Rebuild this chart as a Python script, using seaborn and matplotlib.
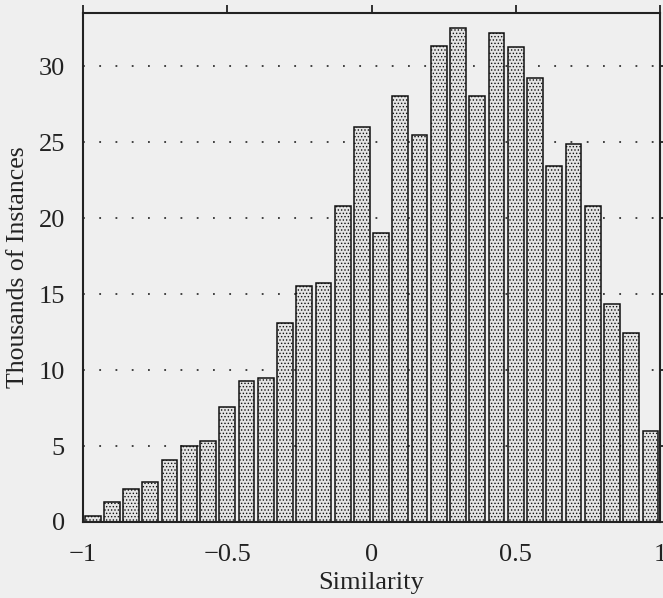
import numpy as np
import pandas as pd
import seaborn as sns
import matplotlib
matplotlib.use("Agg")
import matplotlib.pyplot as plt

# ---- data (thousands of instances per similarity bin) ----
bin_edges = np.linspace(-1, 1, 31)
similarity = (bin_edges[:-1] + bin_edges[1:]) / 2
counts = [0.4, 1.3, 2.2, 2.65, 4.1, 5.0, 5.3, 7.6, 9.3, 9.5,
          13.1, 15.55, 15.75, 20.8, 26.0, 19.05, 28.05, 25.5, 31.3, 32.5,
          28.05, 32.2, 31.25, 29.2, 23.45, 24.85, 20.8, 14.35, 12.45, 6.0]
xtick_vals = [-1, -0.5, 0, 0.5, 1]
xtick_labels = ["\u22121", "\u22120.5", "0", "0.5", "1"]
ytick_vals = [0, 5, 10, 15, 20, 25, 30]

df = pd.DataFrame({"Similarity": similarity, "count": counts})

sns.set_theme(style="white")
plt.rcParams["font.family"] = ["Liberation Serif", "DejaVu Serif"]
plt.rcParams["hatch.linewidth"] = 0.6

bg = "#efefef"
fig = plt.figure(figsize=(6.63, 5.98), dpi=100, facecolor=bg)
ax = fig.add_axes([0.1252, 0.1271, 0.9955 - 0.1252, 0.9783 - 0.1271])
ax.set_facecolor(bg)

sns.histplot(data=df, x="Similarity", weights="count", bins=30, binrange=(-1, 1),
             shrink=0.82, color="#e4e4e4", edgecolor="#111111", linewidth=1.1,
             alpha=1, hatch=".....", ax=ax, zorder=2)

ax.set_xlim(-1, 1)
ax.set_ylim(0, 33.5)
ax.set_xticks(xtick_vals)
ax.set_xticklabels(xtick_labels)
ax.set_yticks(ytick_vals)
ax.yaxis.grid(True, linestyle=(0, (1, 8)), linewidth=1.3, color="#333333", zorder=0)
ax.xaxis.grid(False)
ax.set_axisbelow(True)

for s in ax.spines.values():
    s.set_visible(True)
    s.set_linewidth(1.5)
    s.set_color("#222222")

ax.tick_params(axis="both", direction="out", top=True, right=True, length=6,
               width=1.3, color="#222222", labelsize=19, labelcolor="#222222")
ax.tick_params(axis="x", pad=10)
ax.tick_params(axis="y", pad=7)
ax.tick_params(labeltop=False, labelright=False)

ax.set_xlabel("Similarity", fontsize=19, color="#222222", labelpad=4)
ax.set_ylabel("Thousands of Instances", fontsize=18.5, color="#222222", labelpad=7)

fig.savefig("out.png", dpi=100, facecolor=bg)
